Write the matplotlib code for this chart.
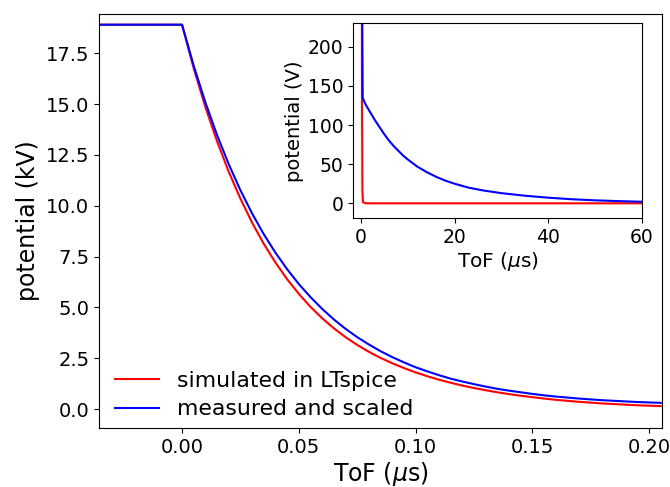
import numpy as np
import matplotlib
matplotlib.use('Agg')
import matplotlib.pyplot as plt

# time axis of the discharge curves (microseconds)
tof_us = [-0.04, 0.0, 0.005, 0.01, 0.015, 0.02, 0.025, 0.03, 0.035, 0.04, 0.045,
          0.05, 0.055, 0.06, 0.065, 0.07, 0.075, 0.08, 0.085, 0.09, 0.095,
          0.10, 0.105, 0.11, 0.115, 0.12, 0.125, 0.13, 0.135, 0.14, 0.145,
          0.15, 0.155, 0.16, 0.165, 0.17, 0.175, 0.18, 0.185, 0.19, 0.195,
          0.20, 0.205]

# LTspice simulation (kV)
sim_kv = [18.90, 18.90, 16.75, 14.85, 13.17, 11.67, 10.35, 9.17, 8.13, 7.21, 6.39,
          5.67, 5.03, 4.47, 3.98, 3.54, 3.16, 2.82, 2.52, 2.26, 2.02,
          1.81, 1.62, 1.45, 1.30, 1.16, 1.04, 0.93, 0.83, 0.74, 0.66,
          0.59, 0.52, 0.46, 0.41, 0.36, 0.32, 0.28, 0.25, 0.22, 0.19,
          0.17, 0.15]

# measured trace, scaled (kV)
meas_kv = [18.90, 18.90, 16.88, 15.08, 13.47, 12.04, 10.76, 9.62, 8.60, 7.69, 6.88,
           6.15, 5.51, 4.93, 4.41, 3.95, 3.54, 3.18, 2.85, 2.56, 2.30,
           2.06, 1.86, 1.67, 1.50, 1.36, 1.23, 1.11, 1.00, 0.91, 0.83,
           0.75, 0.68, 0.62, 0.57, 0.52, 0.48, 0.44, 0.41, 0.38, 0.35,
           0.33, 0.31]

# long tails for the inset (us, V)
sim_tail_us = [0.3, 0.4, 1.0, 60.0]
sim_tail_v = [16, 1.5, 0, 0]

meas_tail_us = [0.35, 1, 2, 3, 4, 5, 6, 7, 8, 9, 10, 12, 14, 16, 18, 20,
                23, 26, 30, 35, 40, 45, 50, 55, 60]
meas_tail_v = [135, 126, 116, 106, 97, 88, 80, 73, 67, 61, 56, 47, 40, 34, 29, 25,
               20, 16.5, 13, 9.7, 7.2, 5.2, 3.8, 2.8, 2.0]

plt.rcParams.update({'font.size': 14, 'axes.labelsize': 17})

fig = plt.figure(figsize=(6.7, 4.87), dpi=100)
ax = fig.add_axes([0.148, 0.121, 0.840, 0.850])

ax.plot(tof_us, sim_kv, color='red', lw=1.5, label='simulated in LTspice')
ax.plot(tof_us, meas_kv, color='blue', lw=1.5, label='measured and scaled')
ax.set_xlim(-0.0355, 0.2055)
ax.set_ylim(-0.93, 19.42)
ax.set_xticks([0.0, 0.05, 0.10, 0.15, 0.20])
ax.set_yticks(np.arange(0, 17.6, 2.5))
ax.set_xlabel('ToF ($\\mu$s)', labelpad=2)
ax.set_ylabel('potential (kV)')
ax.legend(loc='lower left', bbox_to_anchor=(0.007, -0.008), frameon=False,
          fontsize=15.8, handlelength=2.0, borderaxespad=0.15, labelspacing=0.38)

# inset with the full time range in volts
ins = fig.add_axes([0.527, 0.552, 0.431, 0.400])
ins.plot(list(tof_us) + sim_tail_us, [v * 1000 for v in sim_kv] + sim_tail_v,
         color='red', lw=1.5)
ins.plot(list(tof_us) + meas_tail_us, [v * 1000 for v in meas_kv] + meas_tail_v,
         color='blue', lw=1.5)
ins.set_xlim(-1.7, 60)
ins.set_ylim(-19, 230)
ins.set_xticks([0, 20, 40, 60])
ins.set_yticks([0, 50, 100, 150, 200])
ins.tick_params(labelsize=13.5)
ins.set_xlabel('ToF ($\\mu$s)', fontsize=14.5, labelpad=2)
ins.set_ylabel('potential (V)', fontsize=14, labelpad=3)

plt.savefig('out.png', dpi=100)
